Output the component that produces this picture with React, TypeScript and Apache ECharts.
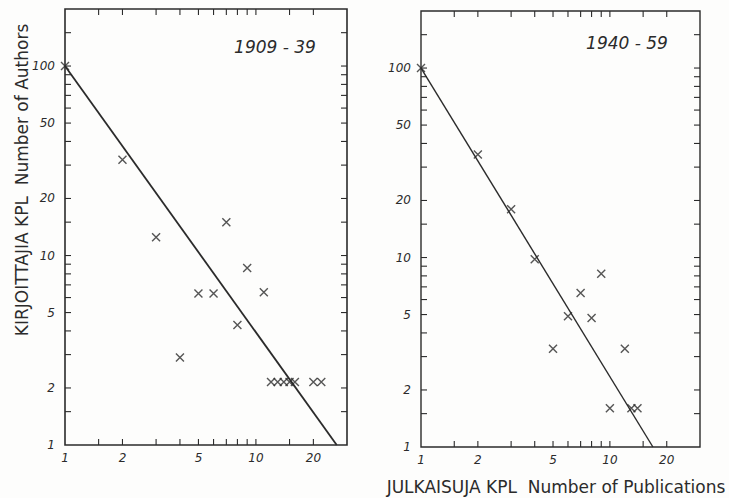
import React, { useEffect, useRef } from "react";
import * as echarts from "echarts";

// ---- data ----
const pubs1909 = [1, 2, 3, 4, 5, 6, 7, 8, 9, 11, 12, 13, 14, 15, 16, 20, 22];
const authors1909 = [100, 32, 12.5, 2.9, 6.3, 6.3, 15, 4.3, 8.6, 6.4, 2.15, 2.15, 2.15, 2.15, 2.15, 2.15, 2.15];
const pubs1940 = [1, 2, 3, 4, 5, 6, 7, 8, 9, 10, 12, 13, 14];
const authors1940 = [100, 35, 18, 9.8, 3.3, 4.9, 6.5, 4.8, 8.2, 1.6, 3.3, 1.6, 1.6];
const fitX1909 = [1, 26.5];
const fitY1909 = [100, 1];
const fitX1940 = [1, 16.9];
const fitY1940 = [100, 1];

const xTickValues = [1.5, 2, 3, 4, 5, 6, 7, 8, 9, 10, 15, 20];
const yTickValues = [1.5, 2, 3, 4, 5, 6, 7, 8, 9, 10, 15, 20, 30, 40, 50, 60, 70, 80, 90, 100, 150];
const xLabelValues = [1, 2, 5, 10, 20];
const yLabelValues = [1, 2, 5, 10, 20, 50, 100];

const panelTitles = ["1909 - 39", "1940 - 59"];
const yTitle = "KIRJOITTAJIA KPL  Number of Authors";
const xTitle = "JULKAISUJA KPL  Number of Publications";

const INK = "#2b2b2b";
const NUM_FONT = "'DejaVu Sans', sans-serif";

function tickSeries(gridIndex: number) {
  const xs = xTickValues.map((v) => [v, 1, 0]);
  const ys = yTickValues.map((v) => [1, v, 1]);
  return {
    type: "custom",
    xAxisIndex: gridIndex,
    yAxisIndex: gridIndex,
    silent: true,
    data: [...xs, ...ys],
    renderItem: (params: any, api: any) => {
      const cs = params.coordSys;
      const kind = api.value(2);
      const p = api.coord([api.value(0), api.value(1)]);
      const len = 6;
      const style = { stroke: INK, lineWidth: 1.1 };
      if (kind === 0) {
        return {
          type: "group",
          children: [
            { type: "line", shape: { x1: p[0], y1: cs.y + cs.height, x2: p[0], y2: cs.y + cs.height - len }, style },
            { type: "line", shape: { x1: p[0], y1: cs.y, x2: p[0], y2: cs.y + len }, style },
          ],
        };
      }
      return {
        type: "group",
        children: [
          { type: "line", shape: { x1: cs.x, y1: p[1], x2: cs.x + len, y2: p[1] }, style },
          { type: "line", shape: { x1: cs.x + cs.width, y1: p[1], x2: cs.x + cs.width - len, y2: p[1] }, style },
        ],
      };
    },
  };
}

function labelSeries(gridIndex: number) {
  const xs = xLabelValues.map((v) => [v, 1, 0]);
  const ys = yLabelValues.map((v) => [1, v, 1]);
  return {
    type: "custom",
    xAxisIndex: gridIndex,
    yAxisIndex: gridIndex,
    silent: true,
    data: [...xs, ...ys],
    renderItem: (params: any, api: any) => {
      const kind = api.value(2);
      const p = api.coord([api.value(0), api.value(1)]);
      const val = kind === 0 ? api.value(0) : api.value(1);
      const base = {
        text: String(val),
        fill: INK,
        fontSize: 12,
        fontStyle: "italic",
        fontFamily: NUM_FONT,
      };
      if (kind === 0) {
        return { type: "text", x: p[0], y: p[1] + 13, style: { ...base, align: "center", verticalAlign: "middle" } };
      }
      return { type: "text", x: p[0] - 10, y: p[1], style: { ...base, align: "right", verticalAlign: "middle" } };
    },
  };
}

const cross = "path://M0 0L10 10M10 0L0 10";

function scatter(gridIndex: number, xs: number[], ys: number[]) {
  return {
    type: "scatter",
    xAxisIndex: gridIndex,
    yAxisIndex: gridIndex,
    clip: false,
    symbol: cross,
    symbolSize: 8,
    itemStyle: { color: "rgba(0,0,0,0)", borderColor: INK, borderWidth: 1.4 },
    data: xs.map((x, i) => [x, ys[i]]),
    z: 5,
  };
}

function fit(gridIndex: number, xs: number[], ys: number[], w: number) {
  return {
    type: "line",
    xAxisIndex: gridIndex,
    yAxisIndex: gridIndex,
    showSymbol: false,
    symbol: "none",
    clip: false,
    lineStyle: { color: INK, width: w },
    data: xs.map((x, i) => [x, ys[i]]),
    z: 4,
  };
}

function logAxis(gridIndex: number, min: number, max: number) {
  return {
    type: "log",
    logBase: 10,
    gridIndex,
    min,
    max,
    axisLine: { show: false },
    axisTick: { show: false },
    axisLabel: { show: false },
    splitLine: { show: false },
    minorTick: { show: false },
  };
}

export default function App() {
  const ref = useRef<HTMLDivElement>(null);
  useEffect(() => {
    if (!ref.current) return;
    const chart = echarts.init(ref.current, null, { renderer: "svg" });
    chart.setOption({
      animation: false,
      backgroundColor: "#fdfdfc",
      grid: [
        { left: 65, right: 382, top: 9, bottom: 53, show: true, borderColor: INK, borderWidth: 1.6, backgroundColor: "transparent" },
        { left: 421, right: 29, top: 11, bottom: 51, show: true, borderColor: INK, borderWidth: 1.4, backgroundColor: "transparent" },
      ],
      xAxis: [logAxis(0, 1, 30), logAxis(1, 1, 30)],
      yAxis: [logAxis(0, 1, 200), logAxis(1, 1, 200)],
      series: [
        tickSeries(0),
        tickSeries(1),
        labelSeries(0),
        labelSeries(1),
        fit(0, fitX1909, fitY1909, 1.8),
        fit(1, fitX1940, fitY1940, 1.4),
        scatter(0, pubs1909, authors1909),
        scatter(1, pubs1940, authors1940),
      ],
      graphic: [
        {
          type: "text",
          x: 275,
          y: 47,
          style: { text: panelTitles[0], fill: INK, fontSize: 17, fontStyle: "italic", fontFamily: NUM_FONT, align: "center", verticalAlign: "middle" },
        },
        {
          type: "text",
          x: 627,
          y: 43,
          style: { text: panelTitles[1], fill: INK, fontSize: 17, fontStyle: "italic", fontFamily: NUM_FONT, align: "center", verticalAlign: "middle" },
        },
        {
          type: "text",
          x: 22,
          y: 180,
          rotation: Math.PI / 2,
          style: { text: yTitle, fill: INK, fontSize: 17, fontFamily: "'DejaVu Sans', sans-serif", align: "center", verticalAlign: "middle" },
        },
        {
          type: "text",
          x: 556,
          y: 487,
          style: { text: xTitle, fill: INK, fontSize: 17, fontFamily: "'DejaVu Sans', sans-serif", align: "center", verticalAlign: "middle" },
        },
      ],
    });
    return () => chart.dispose();
  }, []);
  return (
    <div
      ref={ref}
      style={{ position: "fixed", left: 0, top: 0, width: 729, height: 498 }}
    />
  );
}
